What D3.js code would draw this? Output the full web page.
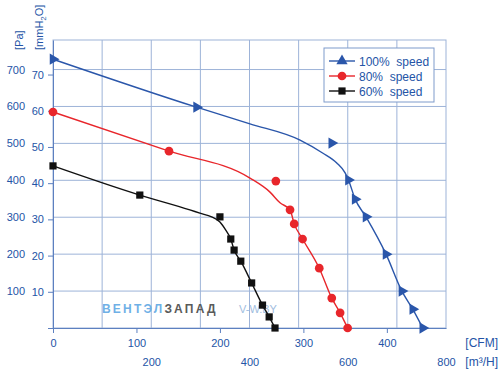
<!DOCTYPE html>
<html lang="en">
<head>
<meta charset="UTF-8">
<style>
    body { margin: 0; background: #fff; }
    text { font-family: "Liberation Sans", Arial, sans-serif; fill: #2454a6; }
    .grid line, .frame { stroke: #9db3d8; stroke-width: 1; fill: none; }
    .axis path, .axis line { stroke: #5d80c0; }
    .axis text { font-size: 11px; fill: #2454a6; font-family: "Liberation Sans", Arial, sans-serif; }
    .legend text { font-size: 12px; white-space: pre; }
</style>
<script src="https://d3js.org/d3.v7.min.js"></script>
<title>Fan curve</title>
</head>
<body>
<svg width="503" height="373"></svg>
<script>

// values: [CFM, Pa]
var legendLabels = ["100%  speed", "80%  speed", "60%  speed"];
var cfmTicks = [0, 100, 200, 300, 400];
var m3hTicks = [200, 400, 600, 800];
var paTicks = [100, 200, 300, 400, 500, 600, 700];
var mmTicks = [0, 10, 20, 30, 40, 50, 60, 70];

var marks100 = [[0, 728], [172, 598], [334, 501], [354, 401], [362, 349], [375, 301], [399, 200], [418, 100], [431, 51], [443, 0]];
var curve100 = [[0, 728], [172, 598], [236, 553], [296, 509], [323, 474], [340, 447], [350, 420], [354, 401], [362, 349], [375, 301], [399, 200], [418, 100], [431, 51], [443, 0]];

var marks80 = [[0, 585], [139, 479], [267, 398], [284, 320], [289, 282], [299, 241], [319, 162], [334, 81], [344, 41], [353, 0]];
var curve80 = [[0, 585], [139, 479], [236, 406], [260, 368], [272, 339], [284, 320], [289, 282], [299, 241], [319, 162], [334, 81], [344, 41], [353, 0]];

var marks60 = [[0, 439], [104, 360], [200, 301], [213, 241], [217, 211], [225, 181], [238, 122], [251, 62], [259, 30], [266, 0]];
var curve60 = [[0, 439], [104, 360], [164, 320], [176, 311], [190, 301], [200, 287], [207, 265], [213, 241], [217, 211], [225, 181], [238, 122], [251, 62], [259, 30], [266, 0]];

var CFM_TO_M3H = 1.699;
var PA_PER_MM = 9.80665;

var svg = d3.select("svg");

var x = d3.scaleLinear().domain([0, 800 / CFM_TO_M3H]).range([53, 446]);
var xM = d3.scaleLinear().domain([0, 800]).range([53, 446]);
var y = d3.scaleLinear().domain([0, 780]).range([328, 40]);
var yMm = d3.scaleLinear().domain([0, 780 / PA_PER_MM]).range([328, 40]);

// grid
var grid = svg.append("g").attr("class", "grid");
grid.selectAll(".v").data(d3.range(100, 800, 100)).enter().append("line")
    .attr("x1", function(d) { return xM(d); }).attr("x2", function(d) { return xM(d); })
    .attr("y1", y(0)).attr("y2", y(780));
grid.selectAll(".h").data(paTicks).enter().append("line")
    .attr("x1", x(0)).attr("x2", xM(800))
    .attr("y1", function(d) { return y(d); }).attr("y2", function(d) { return y(d); });
svg.append("rect").attr("class", "frame")
    .attr("x", x(0)).attr("y", y(780))
    .attr("width", xM(800) - x(0)).attr("height", y(0) - y(780));

// watermark
var wm = svg.append("text").attr("x", 102).attr("y", 313)
    .style("font-size", "12px").style("font-weight", "bold").style("letter-spacing", "2.2px");
wm.append("tspan").style("fill", "#6fb0e6").text("ВЕНТЭЛ");
wm.append("tspan").style("fill", "#5a5a5a").text("ЗАПАД");
svg.append("text").attr("x", 239).attr("y", 313)
    .style("font-size", "11px").style("fill", "#9fbde0").text("V-W.BY");

// axes
svg.append("g").attr("class", "axis")
    .attr("transform", "translate(0," + y(0) + ")")
    .call(d3.axisBottom(x).tickValues(cfmTicks).tickSize(5).tickSizeOuter(0).tickPadding(6));

svg.append("g").attr("class", "axis")
    .attr("transform", "translate(0," + y(0) + ")")
    .call(d3.axisBottom(xM).tickValues(m3hTicks).tickSize(0).tickPadding(30))
    .call(function(g) { g.select(".domain").remove(); });

svg.append("g").attr("class", "axis")
    .attr("transform", "translate(" + x(0) + ",0)")
    .call(d3.axisLeft(yMm).tickValues(mmTicks).tickSize(5).tickSizeOuter(0).tickPadding(4)
        .tickFormat(function(d) { return d ? d : ""; }));

svg.append("g").attr("class", "axis")
    .attr("transform", "translate(" + x(0) + ",0)")
    .call(d3.axisLeft(y).tickValues(paTicks).tickSize(0).tickPadding(28))
    .call(function(g) { g.select(".domain").remove(); });

// unit labels
svg.append("text").attr("x", 498).attr("y", 347).attr("text-anchor", "end")
    .style("font-size", "12px").text("[CFM]");
svg.append("text").attr("x", 498).attr("y", 366).attr("text-anchor", "end")
    .style("font-size", "12px").text("[m³/H]");
svg.append("text").attr("transform", "translate(23,50) rotate(-90)")
    .style("font-size", "11px").text("[Pa]");
var mm = svg.append("text").attr("transform", "translate(43,50) rotate(-90)")
    .style("font-size", "11px");
mm.append("tspan").text("[mmH");
mm.append("tspan").attr("dy", 3).style("font-size", "8px").text("2");
mm.append("tspan").attr("dy", -3).text("O]");

// curves
var line = d3.line()
    .x(function(d) { return x(d[0]); })
    .y(function(d) { return y(d[1]); })
    .curve(d3.curveMonotoneX);

var series = [
    { curve: curve100, marks: marks100, color: "#2a56aa", symbol: d3.symbolTriangle, size: 55, rot: 90 },
    { curve: curve80, marks: marks80, color: "#e8262b", symbol: d3.symbolCircle, size: 60, rot: 0 },
    { curve: curve60, marks: marks60, color: "#111111", symbol: d3.symbolSquare, size: 52, rot: 0 }
];

series.forEach(function(s) {
    svg.append("path").datum(s.curve)
        .attr("d", line)
        .attr("fill", "none")
        .attr("stroke", s.color)
        .attr("stroke-width", 1.4);
    svg.selectAll(null).data(s.marks).enter().append("path")
        .attr("d", d3.symbol().type(s.symbol).size(s.size))
        .attr("transform", function(d) {
            return "translate(" + x(d[0]) + "," + y(d[1]) + ") rotate(" + s.rot + ")";
        })
        .attr("fill", s.color);
});

// legend
var legend = svg.append("g").attr("class", "legend");
legend.append("rect")
    .attr("x", 324).attr("y", 48).attr("width", 110).attr("height", 54)
    .attr("fill", "#fff").attr("stroke", "#7f9bcb");
var rows = legend.selectAll(".row").data(series).enter().append("g")
    .attr("transform", function(d, i) { return "translate(0," + (61 + i * 15) + ")"; });
rows.append("line").attr("x1", 329).attr("x2", 355)
    .attr("stroke", function(d) { return d.color; }).attr("stroke-width", 1.4);
rows.append("path")
    .attr("d", function(d) { return d3.symbol().type(d.symbol).size(d.size)(); })
    .attr("transform", "translate(342,0)")
    .attr("fill", function(d) { return d.color; });
rows.append("text").attr("x", 359).attr("y", 4.5)
    .text(function(d, i) { return legendLabels[i]; });

</script>
</body>
</html>
